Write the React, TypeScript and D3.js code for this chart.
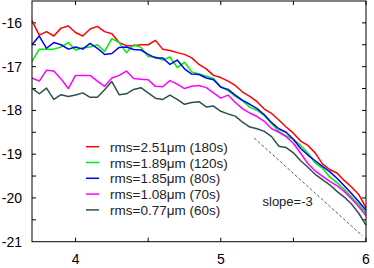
import React, { useRef, useEffect } from 'react';
import * as d3 from 'd3';

// x values (log k), shared by every series
const xs = [
  3.70, 3.75, 3.80, 3.85, 3.90, 3.95, 4.00, 4.05, 4.10, 4.15, 4.20, 4.25,
  4.30, 4.35, 4.40, 4.45, 4.50, 4.55, 4.60, 4.65, 4.70, 4.75, 4.80, 4.85,
  4.90, 4.95, 5.00, 5.05, 5.10, 5.15, 5.20, 5.25, 5.30, 5.35, 5.40, 5.45,
  5.50, 5.55, 5.60, 5.65, 5.70, 5.75, 5.80, 5.85, 5.90, 5.95, 6.00,
];

const rms251 = [
  -15.95, -16.28, -16.2, -16.3, -16.12, -16.07, -16.22, -16.3, -16.14, -16.08, -16.2, -16.25,
  -16.45, -16.52, -16.52, -16.5, -16.5, -16.4, -16.6, -16.63, -16.68, -16.72, -16.8, -16.95,
  -17.05, -17.2, -17.25, -17.33, -17.43, -17.58, -17.68, -17.8, -17.97, -18.07, -18.22, -18.38,
  -18.52, -18.7, -18.8, -18.97, -19.22, -19.35, -19.43, -19.6, -19.75, -19.92, -20.22,
];
const rms189 = [
  -16.88, -16.6, -16.6, -16.6, -16.55, -16.45, -16.62, -16.57, -16.55, -16.5, -16.65, -16.36,
  -16.45, -16.68, -16.5, -16.56, -16.77, -16.78, -16.85, -16.78, -17.02, -16.9, -17.12, -17.17,
  -17.22, -17.27, -17.46, -17.55, -17.68, -17.78, -17.93, -18.0, -18.12, -18.3, -18.48, -18.58,
  -18.66, -18.8, -18.98, -19.2, -19.32, -19.52, -19.65, -19.8, -19.98, -20.15, -20.35,
];
const rms185 = [
  -16.5, -16.3, -16.58, -16.45, -16.5, -16.6, -16.55, -16.6, -16.47, -16.58, -16.72, -16.7,
  -16.56, -16.55, -16.61, -16.62, -16.72, -16.8, -16.8, -16.95, -16.85, -17.05, -17.17, -17.18,
  -17.26, -17.3, -17.47, -17.52, -17.65, -17.77, -17.86, -17.96, -18.1, -18.28, -18.42, -18.5,
  -18.66, -18.87, -19.02, -19.15, -19.28, -19.4, -19.55, -19.72, -19.9, -20.08, -20.28,
];
const rms108 = [
  -17.26, -17.33, -17.08, -17.1, -17.28, -17.5, -17.2, -17.2, -17.2, -17.33, -17.45, -17.26,
  -17.2, -17.1, -17.27, -17.29, -17.3, -17.45, -17.46, -17.32, -17.4, -17.5, -17.45, -17.43,
  -17.48, -17.6, -17.72, -17.65, -17.82, -17.96, -18.06, -18.14, -18.25, -18.42, -18.5, -18.6,
  -18.75, -18.98, -19.22, -19.38, -19.5, -19.62, -19.72, -19.85, -20.02, -20.2, -20.4,
];
const rms077 = [
  -17.49, -17.62, -17.49, -17.75, -17.64, -17.68, -17.65, -17.6, -17.7, -17.7, -17.53, -17.34,
  -17.64, -17.62, -17.52, -17.48, -17.6, -17.72, -17.75, -17.65, -17.75, -17.86, -17.82, -17.8,
  -17.92, -17.9, -18.02, -18.08, -18.13, -18.27, -18.38, -18.42, -18.48, -18.6, -18.82, -18.85,
  -18.97, -19.15, -19.3, -19.46, -19.58, -19.7, -19.85, -19.98, -20.14, -20.35, -20.62,
];

const labels = [
  'rms=2.51μm (180s)',
  'rms=1.89μm (120s)',
  'rms=1.85μm (80s)',
  'rms=1.08μm (70s)',
  'rms=0.77μm (60s)',
];
const colors = ['#ff0000', '#00ee00', '#0000ff', '#ff00ff', '#2f4f4f'];
const seriesValues = [rms251, rms189, rms185, rms108, rms077];

// reference line, slope -3
const slopeX = [5.23, 5.975];
const slopeY = [-18.63, -20.865];

const xTicks = [4, 5, 6];
const yTicks = [-16, -17, -18, -19, -20, -21];

const W = 374;
const H = 268;

const App: React.FC = () => {
  const svgRef = useRef<SVGSVGElement | null>(null);

  useEffect(() => {
    const margin = { top: 1, right: 8, bottom: 26.3, left: 32 };
    const w = W - margin.left - margin.right;
    const h = H - margin.top - margin.bottom;

    const svg = d3.select(svgRef.current);
    svg.selectAll('*').remove();
    const g = svg.append('g').attr('transform', `translate(${margin.left},${margin.top})`);

    const x = d3.scaleLinear().domain([3.7, 6]).range([0, w]);
    const y = d3.scaleLinear().domain([-21, -15.5]).range([h, 0]);

    const font = 'Liberation Sans, Arial, sans-serif';
    const minorX = d3.range(4, 6.01, 0.5);
    const minorY = d3.range(-20.5, -15.6, 0.5);
    const TL = 4;

    // ticks (inward, all four sides)
    const tk = g.append('g').attr('stroke', '#000').attr('stroke-width', 1);
    minorX.forEach((v) => {
      tk.append('line').attr('x1', x(v)).attr('x2', x(v)).attr('y1', h).attr('y2', h - TL);
      tk.append('line').attr('x1', x(v)).attr('x2', x(v)).attr('y1', 0).attr('y2', TL);
    });
    minorY.forEach((v) => {
      tk.append('line').attr('x1', 0).attr('x2', TL).attr('y1', y(v)).attr('y2', y(v));
      tk.append('line').attr('x1', w).attr('x2', w - TL).attr('y1', y(v)).attr('y2', y(v));
    });

    // tick labels
    g.append('g')
      .selectAll('text')
      .data(xTicks)
      .enter()
      .append('text')
      .attr('x', (d: number) => x(d))
      .attr('y', h + 22)
      .attr('text-anchor', 'middle')
      .attr('font-family', font)
      .attr('font-size', 14)
      .text((d: number) => d);
    g.append('g')
      .selectAll('text')
      .data(yTicks)
      .enter()
      .append('text')
      .attr('x', -10)
      .attr('y', (d: number) => y(d) + 5)
      .attr('text-anchor', 'end')
      .attr('font-family', font)
      .attr('font-size', 14)
      .text((d: number) => d);

    // data lines
    const line = d3
      .line<number>()
      .x((_: number, i: number) => x(xs[i]))
      .y((d: number) => y(d));
    seriesValues.forEach((vals, k) => {
      g.append('path')
        .attr('d', line(vals))
        .attr('fill', 'none')
        .attr('stroke', colors[k])
        .attr('stroke-width', 1.5)
        .attr('stroke-linejoin', 'round');
    });

    // slope -3 guide
    g.append('line')
      .attr('x1', x(slopeX[0]))
      .attr('y1', y(slopeY[0]))
      .attr('x2', x(slopeX[1]))
      .attr('y2', y(slopeY[1]))
      .attr('stroke', '#333')
      .attr('stroke-width', 0.8)
      .attr('stroke-dasharray', '3 2');
    g.append('text')
      .attr('x', 262.5 - margin.left)
      .attr('y', 206 - margin.top)
      .attr('font-family', font)
      .attr('font-size', 13)
      .attr('fill', '#222')
      .text('slope=-3');

    // legend
    const lg = g.append('g').attr('transform', `translate(${86 - margin.left},${146.7 - margin.top})`);
    labels.forEach((lab, i) => {
      const row = lg.append('g').attr('transform', `translate(0,${i * 15.8})`);
      row.append('line').attr('x1', 0).attr('x2', 13).attr('stroke', colors[i]).attr('stroke-width', 1.5);
      row.append('text')
        .attr('x', 24)
        .attr('y', 5)
        .attr('font-family', font)
        .attr('font-size', 13.5)
        .attr('fill', '#222')
        .text(lab);
    });

    // frame
    g.append('rect')
      .attr('x', 0)
      .attr('y', 0)
      .attr('width', w)
      .attr('height', h)
      .attr('fill', 'none')
      .attr('stroke', '#000')
      .attr('stroke-width', 1);
  }, []);

  return (
    <svg
      ref={svgRef}
      width={W}
      height={H}
      style={{ position: 'fixed', left: 0, top: 0, background: '#fff' }}
    />
  );
};

export default App;
